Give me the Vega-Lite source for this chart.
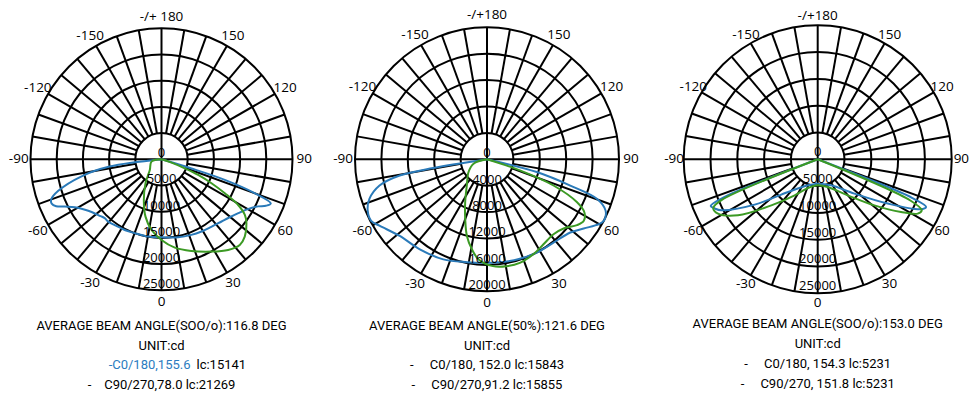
{
  "$schema": "https://vega.github.io/schema/vega-lite/v6.json",
  "padding": 0,
  "spacing": 0,
  "bounds": "flush",
  "background": "white",
  "resolve": {"scale": {"size": "independent", "color": "independent", "x": "independent", "y": "independent"}},
  "config": {"view": {"stroke": null}, "concat": {"spacing": 0}},
  "datasets": {
    "spokes": [{"a":-170},{"a":-160},{"a":-150},{"a":-140},{"a":-130},{"a":-120},{"a":-110},{"a":-100},{"a":-90},{"a":-80},{"a":-70},{"a":-60},{"a":-50},{"a":-40},{"a":-30},{"a":-20},{"a":-10},{"a":0},{"a":10},{"a":20},{"a":30},{"a":40},{"a":50},{"a":60},{"a":70},{"a":80},{"a":90},{"a":100},{"a":110},{"a":120},{"a":130},{"a":140},{"a":150},{"a":160},{"a":170},{"a":180}],
    "rings1": [{"v":5000},{"v":10000},{"v":15000},{"v":20000},{"v":25000}],
    "rings2": [{"v":4000},{"v":8000},{"v":12000},{"v":16000},{"v":20000}],
    "rlab1": [{"v":0},{"v":5000},{"v":10000},{"v":15000},{"v":20000},{"v":25000}],
    "rlab2": [{"v":0},{"v":4000},{"v":8000},{"v":12000},{"v":16000},{"v":20000}],
    "alab1": [{"a":180,"t":"-/+ 180"},{"a":150,"t":"150"},{"a":-150,"t":"-150"},{"a":120,"t":"120"},{"a":-120,"t":"-120"},{"a":90,"t":"90"},{"a":-90,"t":"-90"},{"a":60,"t":"60"},{"a":-60,"t":"-60"},{"a":30,"t":"30"},{"a":-30,"t":"-30"},{"a":0,"t":"0"}],
    "alab2": [{"a":180,"t":"-/+180"},{"a":150,"t":"150"},{"a":-150,"t":"-150"},{"a":120,"t":"120"},{"a":-120,"t":"-120"},{"a":90,"t":"90"},{"a":-90,"t":"-90"},{"a":60,"t":"60"},{"a":-60,"t":"-60"},{"a":30,"t":"30"},{"a":-30,"t":"-30"},{"a":0,"t":"0"}],
    "curves1": [
      {"c":"C0/180","a":-90,"v":0},{"c":"C0/180","a":-82,"v":10000},{"c":"C0/180","a":-78,"v":15600},{"c":"C0/180","a":-73,"v":20600},{"c":"C0/180","a":-70,"v":22400},{"c":"C0/180","a":-68,"v":22600},{"c":"C0/180","a":-66,"v":22000},{"c":"C0/180","a":-63.9,"v":20500},{"c":"C0/180","a":-61,"v":18900},{"c":"C0/180","a":-57,"v":17600},{"c":"C0/180","a":-53,"v":16700},{"c":"C0/180","a":-47,"v":15900},{"c":"C0/180","a":-44,"v":15600},{"c":"C0/180","a":-40.5,"v":15650},{"c":"C0/180","a":-35,"v":15400},{"c":"C0/180","a":-27,"v":15200},{"c":"C0/180","a":-20,"v":15000},{"c":"C0/180","a":-12,"v":14950},{"c":"C0/180","a":0,"v":14900},{"c":"C0/180","a":12,"v":15200},{"c":"C0/180","a":21.5,"v":15500},{"c":"C0/180","a":29,"v":15750},{"c":"C0/180","a":36,"v":16000},{"c":"C0/180","a":44,"v":16500},{"c":"C0/180","a":49,"v":17000},{"c":"C0/180","a":55,"v":17900},{"c":"C0/180","a":60,"v":19000},{"c":"C0/180","a":64,"v":20500},{"c":"C0/180","a":66,"v":21800},{"c":"C0/180","a":68,"v":22500},{"c":"C0/180","a":70,"v":19000},{"c":"C0/180","a":72,"v":12700},{"c":"C0/180","a":73,"v":6000},{"c":"C0/180","a":90,"v":0},
      {"c":"C90/270","a":-90,"v":0},{"c":"C90/270","a":-77,"v":1960},{"c":"C90/270","a":-47.6,"v":3020},{"c":"C90/270","a":-33.7,"v":5500},{"c":"C90/270","a":-23.5,"v":8460},{"c":"C90/270","a":-15.6,"v":11360},{"c":"C90/270","a":-8,"v":13620},{"c":"C90/270","a":0,"v":15390},{"c":"C90/270","a":8.6,"v":17050},{"c":"C90/270","a":18,"v":18390},{"c":"C90/270","a":28.4,"v":20030},{"c":"C90/270","a":36.3,"v":21470},{"c":"C90/270","a":42.4,"v":22150},{"c":"C90/270","a":47.1,"v":21690},{"c":"C90/270","a":53,"v":20300},{"c":"C90/270","a":56.3,"v":19120},{"c":"C90/270","a":59.2,"v":17030},{"c":"C90/270","a":61.8,"v":13720},{"c":"C90/270","a":64.4,"v":10580},{"c":"C90/270","a":66.9,"v":7610},{"c":"C90/270","a":68.9,"v":4770},{"c":"C90/270","a":71.6,"v":2010},{"c":"C90/270","a":90,"v":0}
    ],
    "curves2": [
      {"c":"C0/180","a":-90,"v":0},{"c":"C0/180","a":-80.8,"v":8250},{"c":"C0/180","a":-79.5,"v":13450},{"c":"C0/180","a":-76.3,"v":16760},{"c":"C0/180","a":-71.4,"v":18800},{"c":"C0/180","a":-66.7,"v":19680},{"c":"C0/180","a":-62,"v":19880},{"c":"C0/180","a":-58.3,"v":19150},{"c":"C0/180","a":-48.7,"v":17600},{"c":"C0/180","a":-36.7,"v":17020},{"c":"C0/180","a":-23.6,"v":16550},{"c":"C0/180","a":-11.1,"v":15880},{"c":"C0/180","a":0,"v":15680},{"c":"C0/180","a":8.9,"v":15760},{"c":"C0/180","a":18.3,"v":15870},{"c":"C0/180","a":28,"v":16030},{"c":"C0/180","a":38.6,"v":16150},{"c":"C0/180","a":48.7,"v":16800},{"c":"C0/180","a":54.4,"v":18020},{"c":"C0/180","a":59.9,"v":19590},{"c":"C0/180","a":62.3,"v":20000},{"c":"C0/180","a":66.6,"v":19580},{"c":"C0/180","a":70.2,"v":17740},{"c":"C0/180","a":72.5,"v":13230},{"c":"C0/180","a":75.6,"v":7780},{"c":"C0/180","a":90,"v":0},
      {"c":"C90/270","a":-90,"v":0},{"c":"C90/270","a":-72,"v":2140},{"c":"C90/270","a":-55.4,"v":3400},{"c":"C90/270","a":-37.6,"v":5010},{"c":"C90/270","a":-26.9,"v":7310},{"c":"C90/270","a":-20,"v":9650},{"c":"C90/270","a":-14.7,"v":12000},{"c":"C90/270","a":-9.5,"v":13830},{"c":"C90/270","a":-4.8,"v":15220},{"c":"C90/270","a":3.2,"v":16210},{"c":"C90/270","a":10.3,"v":16460},{"c":"C90/270","a":17.6,"v":16460},{"c":"C90/270","a":26,"v":16020},{"c":"C90/270","a":33.6,"v":15460},{"c":"C90/270","a":41.6,"v":15180},{"c":"C90/270","a":47.9,"v":15640},{"c":"C90/270","a":53.8,"v":16900},{"c":"C90/270","a":57.6,"v":17370},{"c":"C90/270","a":61.4,"v":16810},{"c":"C90/270","a":64.5,"v":15120},{"c":"C90/270","a":68.5,"v":10830},{"c":"C90/270","a":71.4,"v":5260},{"c":"C90/270","a":90,"v":0}
    ],
    "curves3": [
      {"c":"C0/180","a":-90,"v":0},{"c":"C0/180","a":-67.8,"v":19500},{"c":"C0/180","a":-66.4,"v":21790},{"c":"C0/180","a":-64.5,"v":21300},{"c":"C0/180","a":-62.1,"v":20340},{"c":"C0/180","a":-54.3,"v":14480},{"c":"C0/180","a":-42.2,"v":8230},{"c":"C0/180","a":-20.4,"v":5180},{"c":"C0/180","a":0,"v":4540},{"c":"C0/180","a":27.1,"v":5450},{"c":"C0/180","a":46.9,"v":9370},{"c":"C0/180","a":57.7,"v":15460},{"c":"C0/180","a":64.2,"v":21420},{"c":"C0/180","a":66.3,"v":22080},{"c":"C0/180","a":67.8,"v":19000},{"c":"C0/180","a":90,"v":0},
      {"c":"C90/270","a":-90,"v":0},{"c":"C90/270","a":-67,"v":19500},{"c":"C90/270","a":-65,"v":21500},{"c":"C90/270","a":-61.4,"v":21180},{"c":"C90/270","a":-54.9,"v":18170},{"c":"C90/270","a":-45.2,"v":12190},{"c":"C90/270","a":-32.6,"v":7970},{"c":"C90/270","a":-18.6,"v":5650},{"c":"C90/270","a":0,"v":4850},{"c":"C90/270","a":19.9,"v":5490},{"c":"C90/270","a":39.8,"v":8750},{"c":"C90/270","a":50.9,"v":13620},{"c":"C90/270","a":57.7,"v":18400},{"c":"C90/270","a":61.5,"v":21230},{"c":"C90/270","a":63.9,"v":21620},{"c":"C90/270","a":66,"v":19000},{"c":"C90/270","a":90,"v":0}
    ],
    "notes1": [
      {"line":1,"s":"c","t":"AVERAGE BEAM ANGLE(SOO/o):116.8 DEG"},
      {"line":2,"s":"c","t":"UNIT:cd"},
      {"line":3,"s":"b","t":"-C0/180,155.6"},
      {"line":3,"s":"k","t":"lc:15141"},
      {"line":4,"s":"c","t":"-\u00a0\u00a0\u00a0 C90/270,78.0 lc:21269"}
    ],
    "notes2": [
      {"line":1,"s":"c","t":"AVERAGE BEAM ANGLE(50%):121.6 DEG"},
      {"line":2,"s":"c","t":"UNIT:cd"},
      {"line":3,"s":"c","t":"-\u00a0\u00a0\u00a0\u00a0 C0/180, 152.0 lc:15843"},
      {"line":4,"s":"c","t":"-\u00a0\u00a0\u00a0\u00a0 C90/270,91.2 lc:15855"}
    ],
    "notes3": [
      {"line":1,"s":"c","t":"AVERAGE BEAM ANGLE(SOO/o):153.0 DEG"},
      {"line":2,"s":"c","t":"UNIT:cd"},
      {"line":3,"s":"c","t":"-\u00a0\u00a0\u00a0\u00a0 C0/180, 154.3 lc:5231"},
      {"line":4,"s":"c","t":"-\u00a0\u00a0\u00a0\u00a0 C90/270, 151.8 lc:5231"}
    ]
  },
  "hconcat": [
    {
      "width": 324, "height": 399,
      "resolve": {"scale": {"y": "independent"}},
      "layer": [
        {"data": {"name": "rings1"},
         "mark": {"type": "point", "shape": "circle", "filled": false, "stroke": "#000", "strokeWidth": 2, "opacity": 1},
         "encoding": {
           "x": {"datum": 0, "type": "quantitative", "scale": {"domain": [-30821, 31012], "nice": false, "zero": false}, "axis": null},
           "y": {"datum": 0, "type": "quantitative", "scale": {"domain": [-45745, 30401], "nice": false, "zero": false}, "axis": null},
           "size": {"field": "v", "type": "quantitative", "scale": {"type": "pow", "exponent": 2, "domain": [0, 25000], "range": [0, 68644]}, "legend": null}}},
        {"data": {"name": "spokes"},
         "transform": [
           {"calculate": "(datum.a % 90 == 0) ? 0 : 5000", "as": "r0"},
           {"calculate": "datum.r0*sin(datum.a*PI/180)", "as": "x"},
           {"calculate": "-datum.r0*cos(datum.a*PI/180)", "as": "y"},
           {"calculate": "25000*sin(datum.a*PI/180)", "as": "x2"},
           {"calculate": "-25000*cos(datum.a*PI/180)", "as": "y2"}],
         "mark": {"type": "rule", "stroke": "#000", "strokeWidth": 2},
         "encoding": {
           "x": {"field": "x", "type": "quantitative", "scale": {"domain": [-30821, 31012], "nice": false, "zero": false}, "axis": null},
           "y": {"field": "y", "type": "quantitative", "scale": {"domain": [-45745, 30401], "nice": false, "zero": false}, "axis": null},
           "x2": {"field": "x2"}, "y2": {"field": "y2"}}},
        {"data": {"name": "curves1"},
         "transform": [
           {"calculate": "datum.v*sin(datum.a*PI/180)", "as": "x"},
           {"calculate": "-datum.v*cos(datum.a*PI/180)", "as": "y"}],
         "mark": {"type": "line", "strokeWidth": 2, "interpolate": "catmull-rom"},
         "encoding": {
           "x": {"field": "x", "type": "quantitative", "scale": {"domain": [-30821, 31012], "nice": false, "zero": false}, "axis": null},
           "y": {"field": "y", "type": "quantitative", "scale": {"domain": [-45745, 30401], "nice": false, "zero": false}, "axis": null},
           "color": {"field": "c", "type": "nominal", "scale": {"domain": ["C0/180", "C90/270"], "range": ["#2a7ab9", "#3c9a24"]}, "legend": null},
           "order": {"field": "a", "type": "quantitative"}}},
        {"data": {"name": "rlab1"},
         "transform": [{"calculate": "-datum.v", "as": "y"}],
         "mark": {"type": "text", "font": "Open Sans", "fontSize": 13, "baseline": "middle", "align": "center", "dy": -6, "color": "#000"},
         "encoding": {
           "x": {"datum": 0, "type": "quantitative", "scale": {"domain": [-30821, 31012], "nice": false, "zero": false}, "axis": null},
           "y": {"field": "y", "type": "quantitative", "scale": {"domain": [-45745, 30401], "nice": false, "zero": false}, "axis": null},
           "text": {"field": "v", "type": "quantitative", "format": "d"}}},
        {"data": {"name": "alab1"},
         "transform": [
           {"calculate": "27250*sin(datum.a*PI/180)", "as": "x"},
           {"calculate": "-27250*cos(datum.a*PI/180)", "as": "y"}],
         "mark": {"type": "text", "font": "Open Sans", "fontSize": 13.5, "baseline": "middle", "align": "center", "color": "#000"},
         "encoding": {
           "x": {"field": "x", "type": "quantitative", "scale": {"domain": [-30821, 31012], "nice": false, "zero": false}, "axis": null},
           "y": {"field": "y", "type": "quantitative", "scale": {"domain": [-45745, 30401], "nice": false, "zero": false}, "axis": null},
           "text": {"field": "t", "type": "nominal"}}},
        {"data": {"name": "notes1"},
         "transform": [{"filter": "datum.s == 'c'"}],
         "mark": {"type": "text", "font": "Roboto", "fontSize": 13, "baseline": "middle", "align": "center", "color": "#000"},
         "encoding": {
           "x": {"datum": 0, "type": "quantitative", "scale": {"domain": [-30821, 31012], "nice": false, "zero": false}, "axis": null},
           "y": {"field": "line", "type": "quantitative", "scale": {"domain": [1, 4], "range": [326, 385], "nice": false, "zero": false}, "axis": null},
           "text": {"field": "t", "type": "nominal"}}},
        {"data": {"name": "notes1"},
         "transform": [{"filter": "datum.s == 'b'"}],
         "mark": {"type": "text", "font": "Roboto", "fontSize": 13, "baseline": "middle", "align": "right", "dx": 29, "color": "#2b7cc0"},
         "encoding": {
           "x": {"datum": 0, "type": "quantitative", "scale": {"domain": [-30821, 31012], "nice": false, "zero": false}, "axis": null},
           "y": {"field": "line", "type": "quantitative", "scale": {"domain": [1, 4], "range": [326, 385], "nice": false, "zero": false}, "axis": null},
           "text": {"field": "t", "type": "nominal"}}},
        {"data": {"name": "notes1"},
         "transform": [{"filter": "datum.s == 'k'"}],
         "mark": {"type": "text", "font": "Roboto", "fontSize": 13, "baseline": "middle", "align": "left", "dx": 35, "color": "#000"},
         "encoding": {
           "x": {"datum": 0, "type": "quantitative", "scale": {"domain": [-30821, 31012], "nice": false, "zero": false}, "axis": null},
           "y": {"field": "line", "type": "quantitative", "scale": {"domain": [1, 4], "range": [326, 385], "nice": false, "zero": false}, "axis": null},
           "text": {"field": "t", "type": "nominal"}}}
      ]
    },
    {
      "width": 328, "height": 399,
      "resolve": {"scale": {"y": "independent"}},
      "layer": [
        {"data": {"name": "rings2"},
         "mark": {"type": "point", "shape": "circle", "filled": false, "stroke": "#000", "strokeWidth": 2, "opacity": 1},
         "encoding": {
           "x": {"datum": 0, "type": "quantitative", "scale": {"domain": [-24697, 25000], "nice": false, "zero": false}, "axis": null},
           "y": {"datum": 0, "type": "quantitative", "scale": {"domain": [-36319, 24136], "nice": false, "zero": false}, "axis": null},
           "size": {"field": "v", "type": "quantitative", "scale": {"type": "pow", "exponent": 2, "domain": [0, 20000], "range": [0, 69696]}, "legend": null}}},
        {"data": {"name": "spokes"},
         "transform": [
           {"calculate": "(datum.a % 90 == 0) ? 0 : 4000", "as": "r0"},
           {"calculate": "datum.r0*sin(datum.a*PI/180)", "as": "x"},
           {"calculate": "-datum.r0*cos(datum.a*PI/180)", "as": "y"},
           {"calculate": "20000*sin(datum.a*PI/180)", "as": "x2"},
           {"calculate": "-20000*cos(datum.a*PI/180)", "as": "y2"}],
         "mark": {"type": "rule", "stroke": "#000", "strokeWidth": 2},
         "encoding": {
           "x": {"field": "x", "type": "quantitative", "scale": {"domain": [-24697, 25000], "nice": false, "zero": false}, "axis": null},
           "y": {"field": "y", "type": "quantitative", "scale": {"domain": [-36319, 24136], "nice": false, "zero": false}, "axis": null},
           "x2": {"field": "x2"}, "y2": {"field": "y2"}}},
        {"data": {"name": "curves2"},
         "transform": [
           {"calculate": "datum.v*sin(datum.a*PI/180)", "as": "x"},
           {"calculate": "-datum.v*cos(datum.a*PI/180)", "as": "y"}],
         "mark": {"type": "line", "strokeWidth": 2, "interpolate": "catmull-rom"},
         "encoding": {
           "x": {"field": "x", "type": "quantitative", "scale": {"domain": [-24697, 25000], "nice": false, "zero": false}, "axis": null},
           "y": {"field": "y", "type": "quantitative", "scale": {"domain": [-36319, 24136], "nice": false, "zero": false}, "axis": null},
           "color": {"field": "c", "type": "nominal", "scale": {"domain": ["C0/180", "C90/270"], "range": ["#2a7ab9", "#3c9a24"]}, "legend": null},
           "order": {"field": "a", "type": "quantitative"}}},
        {"data": {"name": "rlab2"},
         "transform": [{"calculate": "-datum.v", "as": "y"}],
         "mark": {"type": "text", "font": "Open Sans", "fontSize": 13, "baseline": "middle", "align": "center", "dy": -6, "color": "#000"},
         "encoding": {
           "x": {"datum": 0, "type": "quantitative", "scale": {"domain": [-24697, 25000], "nice": false, "zero": false}, "axis": null},
           "y": {"field": "y", "type": "quantitative", "scale": {"domain": [-36319, 24136], "nice": false, "zero": false}, "axis": null},
           "text": {"field": "v", "type": "quantitative", "format": "d"}}},
        {"data": {"name": "alab2"},
         "transform": [
           {"calculate": "21800*sin(datum.a*PI/180)", "as": "x"},
           {"calculate": "-21800*cos(datum.a*PI/180)", "as": "y"}],
         "mark": {"type": "text", "font": "Open Sans", "fontSize": 13.5, "baseline": "middle", "align": "center", "color": "#000"},
         "encoding": {
           "x": {"field": "x", "type": "quantitative", "scale": {"domain": [-24697, 25000], "nice": false, "zero": false}, "axis": null},
           "y": {"field": "y", "type": "quantitative", "scale": {"domain": [-36319, 24136], "nice": false, "zero": false}, "axis": null},
           "text": {"field": "t", "type": "nominal"}}},
        {"data": {"name": "notes2"},
         "mark": {"type": "text", "font": "Roboto", "fontSize": 13, "baseline": "middle", "align": "center", "color": "#000"},
         "encoding": {
           "x": {"datum": 0, "type": "quantitative", "scale": {"domain": [-24697, 25000], "nice": false, "zero": false}, "axis": null},
           "y": {"field": "line", "type": "quantitative", "scale": {"domain": [1, 4], "range": [326, 385], "nice": false, "zero": false}, "axis": null},
           "text": {"field": "t", "type": "nominal"}}}
      ]
    },
    {
      "width": 324, "height": 399,
      "resolve": {"scale": {"y": "independent"}},
      "layer": [
        {"data": {"name": "rings1"},
         "mark": {"type": "point", "shape": "circle", "filled": false, "stroke": "#000", "strokeWidth": 2, "opacity": 1},
         "encoding": {
           "x": {"datum": 0, "type": "quantitative", "scale": {"domain": [-30915, 29534], "nice": false, "zero": false}, "axis": null},
           "y": {"datum": 0, "type": "quantitative", "scale": {"domain": [-44721, 29721], "nice": false, "zero": false}, "axis": null},
           "size": {"field": "v", "type": "quantitative", "scale": {"type": "pow", "exponent": 2, "domain": [0, 25000], "range": [0, 71824]}, "legend": null}}},
        {"data": {"name": "spokes"},
         "transform": [
           {"calculate": "(datum.a % 90 == 0) ? 0 : 5000", "as": "r0"},
           {"calculate": "datum.r0*sin(datum.a*PI/180)", "as": "x"},
           {"calculate": "-datum.r0*cos(datum.a*PI/180)", "as": "y"},
           {"calculate": "25000*sin(datum.a*PI/180)", "as": "x2"},
           {"calculate": "-25000*cos(datum.a*PI/180)", "as": "y2"}],
         "mark": {"type": "rule", "stroke": "#000", "strokeWidth": 2},
         "encoding": {
           "x": {"field": "x", "type": "quantitative", "scale": {"domain": [-30915, 29534], "nice": false, "zero": false}, "axis": null},
           "y": {"field": "y", "type": "quantitative", "scale": {"domain": [-44721, 29721], "nice": false, "zero": false}, "axis": null},
           "x2": {"field": "x2"}, "y2": {"field": "y2"}}},
        {"data": {"name": "curves3"},
         "transform": [
           {"calculate": "datum.v*sin(datum.a*PI/180)", "as": "x"},
           {"calculate": "-datum.v*cos(datum.a*PI/180)", "as": "y"}],
         "mark": {"type": "line", "strokeWidth": 2, "interpolate": "catmull-rom"},
         "encoding": {
           "x": {"field": "x", "type": "quantitative", "scale": {"domain": [-30915, 29534], "nice": false, "zero": false}, "axis": null},
           "y": {"field": "y", "type": "quantitative", "scale": {"domain": [-44721, 29721], "nice": false, "zero": false}, "axis": null},
           "color": {"field": "c", "type": "nominal", "scale": {"domain": ["C0/180", "C90/270"], "range": ["#2a7ab9", "#3c9a24"]}, "legend": null},
           "order": {"field": "a", "type": "quantitative"}}},
        {"data": {"name": "rlab1"},
         "transform": [{"calculate": "-datum.v", "as": "y"}],
         "mark": {"type": "text", "font": "Open Sans", "fontSize": 13, "baseline": "middle", "align": "center", "dy": -7, "color": "#000"},
         "encoding": {
           "x": {"datum": 0, "type": "quantitative", "scale": {"domain": [-30915, 29534], "nice": false, "zero": false}, "axis": null},
           "y": {"field": "y", "type": "quantitative", "scale": {"domain": [-44721, 29721], "nice": false, "zero": false}, "axis": null},
           "text": {"field": "v", "type": "quantitative", "format": "d"}}},
        {"data": {"name": "alab2"},
         "transform": [
           {"calculate": "26800*sin(datum.a*PI/180)", "as": "x"},
           {"calculate": "-26800*cos(datum.a*PI/180)", "as": "y"}],
         "mark": {"type": "text", "font": "Open Sans", "fontSize": 13.5, "baseline": "middle", "align": "center", "color": "#000"},
         "encoding": {
           "x": {"field": "x", "type": "quantitative", "scale": {"domain": [-30915, 29534], "nice": false, "zero": false}, "axis": null},
           "y": {"field": "y", "type": "quantitative", "scale": {"domain": [-44721, 29721], "nice": false, "zero": false}, "axis": null},
           "text": {"field": "t", "type": "nominal"}}},
        {"data": {"name": "notes3"},
         "mark": {"type": "text", "font": "Roboto", "fontSize": 13, "baseline": "middle", "align": "center", "color": "#000"},
         "encoding": {
           "x": {"datum": 0, "type": "quantitative", "scale": {"domain": [-30915, 29534], "nice": false, "zero": false}, "axis": null},
           "y": {"field": "line", "type": "quantitative", "scale": {"domain": [1, 4], "range": [324, 384], "nice": false, "zero": false}, "axis": null},
           "text": {"field": "t", "type": "nominal"}}}
      ]
    }
  ]
}
